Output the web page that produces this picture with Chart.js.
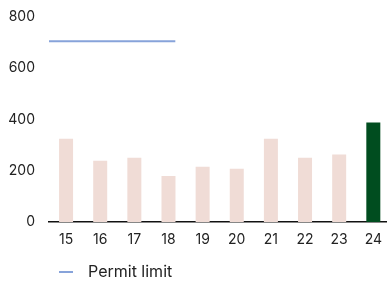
<!DOCTYPE html>
<html>
<head>
<meta charset="utf-8">
<script src="https://cdn.jsdelivr.net/npm/chart.js@4.4.1/dist/chart.umd.min.js"></script>
<style>
html,body{margin:0;padding:0;background:#fff;overflow:hidden;}
#wrap{width:391px;height:281px;position:relative;}
</style>
</head>
<body>
<div id="wrap"><canvas id="c"></canvas></div>
<script>
const categories = ['15','16','17','18','19','20','21','22','23','24'];
const values = [325, 239, 251, 180, 216, 208, 325, 251, 263, 388];
const barColors = ['#f0dcd6','#f0dcd6','#f0dcd6','#f0dcd6','#f0dcd6','#f0dcd6','#f0dcd6','#f0dcd6','#f0dcd6','#004d1f'];
const permitX = [14.5, 18.2];
const permitLimit = [705, 705];
const yTicks = [0, 200, 400, 600, 800];

const LINE_COLOR = '#87a3da';
const FONT = 'Inter, "Noto Sans", sans-serif';
Chart.defaults.font.family = FONT;
Chart.defaults.font.size = 14;
Chart.defaults.color = '#222';

// legend marker: short horizontal line
const marker = document.createElement('canvas');
marker.width = 14; marker.height = 2;
(function(){ const g = marker.getContext('2d'); g.fillStyle = LINE_COLOR; g.fillRect(0,0,14,2); })();

const legendShift = {
  id: 'legendShift',
  afterLayout(chart) {
    const lg = chart.legend;
    if (lg) { lg.left = 50; lg.top += 9; lg.bottom += 9; }
  }
};

new Chart(document.getElementById('c'), {
  type: 'bar',
  data: {
    labels: categories,
    datasets: [
      {
        label: 'Values',
        data: values,
        backgroundColor: barColors,
        grouped: false,
        categoryPercentage: 1,
        barPercentage: 0.41,
        order: 1
      },
      {
        type: 'line',
        label: 'Permit limit',
        data: permitX.map((x, i) => ({x: x, y: permitLimit[i]})),
        xAxisID: 'x2',
        borderColor: LINE_COLOR,
        backgroundColor: LINE_COLOR,
        borderWidth: 2,
        pointRadius: 0,
        fill: false,
        order: 0
      }
    ]
  },
  options: {
    responsive: true,
    maintainAspectRatio: false,
    animation: false,
    layout: { padding: { top: 17, right: 0, left: 0, bottom: 0 } },
    plugins: {
      tooltip: { enabled: false },
      legend: {
        position: 'bottom',
        align: 'start',
        labels: {
          usePointStyle: true,
          pointStyle: marker,
          pointStyleWidth: 28,
          boxHeight: 14,
          padding: 2,
          color: '#222',
          font: { size: 16 },
          filter: item => item.text === 'Permit limit'
        }
      }
    },
    scales: {
      x: {
        type: 'category',
        offset: true,
        grid: { display: false, drawTicks: false },
        border: { display: true, color: '#111', width: 1.5 },
        ticks: { padding: 9, color: '#222', font: { size: 14 } },
        afterFit: s => { s.height = 31; }
      },
      x2: {
        type: 'linear',
        min: 14.5,
        max: 24.5,
        offset: false,
        display: false
      },
      y: {
        min: 0,
        max: 800,
        afterBuildTicks: s => { s.ticks = yTicks.map(v => ({value: v})); },
        grid: { display: false, drawTicks: false },
        border: { display: false },
        ticks: { padding: 14, color: '#222', font: { size: 14 } },
        afterFit: s => { s.width = 49; s.paddingTop = 0; s.paddingBottom = 0; }
      }
    }
  },
  plugins: [legendShift]
});
</script>
</body>
</html>
